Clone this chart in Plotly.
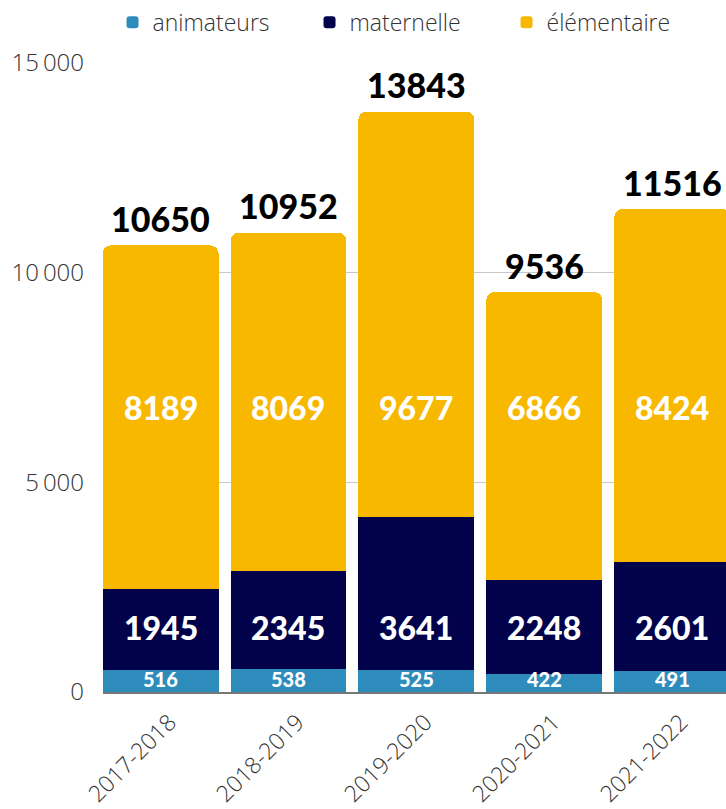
import plotly.graph_objects as go

categories = ["2017-2018", "2018-2019", "2019-2020", "2020-2021", "2021-2022"]
animateurs = [516, 538, 525, 422, 491]
maternelle = [1945, 2345, 3641, 2248, 2601]
elementaire = [8189, 8069, 9677, 6866, 8424]
totals = [10650, 10952, 13843, 9536, 11516]
tick_vals = [0, 5000, 10000, 15000]
tick_text = ["0", "5\u2009000", "10\u2009000", "15\u2009000"]

C_ANIM = "#2E8CBC"
C_MAT = "#02024A"
C_ELEM = "#F8B800"

# fixed vertical label positions (data units) as in the reference
Y_ANIM_LBL = 310
Y_MAT_LBL = 1550
Y_ELEM_LBL = 6780

fig = go.Figure()
fig.add_trace(go.Bar(name="animateurs", x=categories, y=animateurs, marker_color=C_ANIM, marker_line_width=0))
fig.add_trace(go.Bar(name="maternelle", x=categories, y=maternelle, marker_color=C_MAT, marker_line_width=0))
fig.add_trace(go.Bar(name="élémentaire", x=categories, y=elementaire, marker_color=C_ELEM, marker_line_width=0))

annotations = []
bold = dict(family="Lato", weight=900)
for i, c in enumerate(categories):
    annotations.append(dict(x=c, y=Y_ANIM_LBL, text=str(animateurs[i]), showarrow=False,
                            font=dict(size=20, color="white", **bold)))
    annotations.append(dict(x=c, y=Y_MAT_LBL, text=str(maternelle[i]), showarrow=False,
                            font=dict(size=32, color="white", **bold)))
    annotations.append(dict(x=c, y=Y_ELEM_LBL, text=str(elementaire[i]), showarrow=False,
                            font=dict(size=32, color="white", **bold)))
    annotations.append(dict(x=c, y=totals[i], text=str(totals[i]), showarrow=False,
                            yanchor="middle", yshift=27,
                            font=dict(size=34, color="black", **bold)))

light = dict(family="Open Sans", weight=300, color="#333333")
fig.update_layout(
    width=726, height=809,
    barmode="stack",
    bargap=0.094,
    barcornerradius=8,
    plot_bgcolor="white",
    paper_bgcolor="white",
    margin=dict(l=103, r=0, t=63, b=117),
    font=dict(family="Open Sans", color="#333333"),
    showlegend=True,
    legend=dict(orientation="h", xref="container", yref="container",
                x=0.155, y=0.999, xanchor="left", yanchor="top",
                font=dict(size=23, **light),
                entrywidth=152, entrywidthmode="pixels",
                itemclick=False, traceorder="normal"),
    annotations=annotations,
    xaxis=dict(type="category", range=[-0.45, 4.42], tickangle=-45,
               tickfont=dict(size=23, **light),
               ticklabelshift=9, ticklabelstandoff=6,
               showline=True, linecolor="#777777", linewidth=1.5,
               showgrid=False, ticks=""),
    yaxis=dict(range=[0, 15000.5], tickvals=tick_vals, ticktext=tick_text,
               tickfont=dict(size=24, **light),
               showgrid=True, gridcolor="#c8c8c8", gridwidth=1,
               zeroline=False, ticklabelstandoff=18, showline=False),
)

fig.write_html("out.html", config={"displayModeBar": False},
               post_script="document.body.style.margin='0';")
